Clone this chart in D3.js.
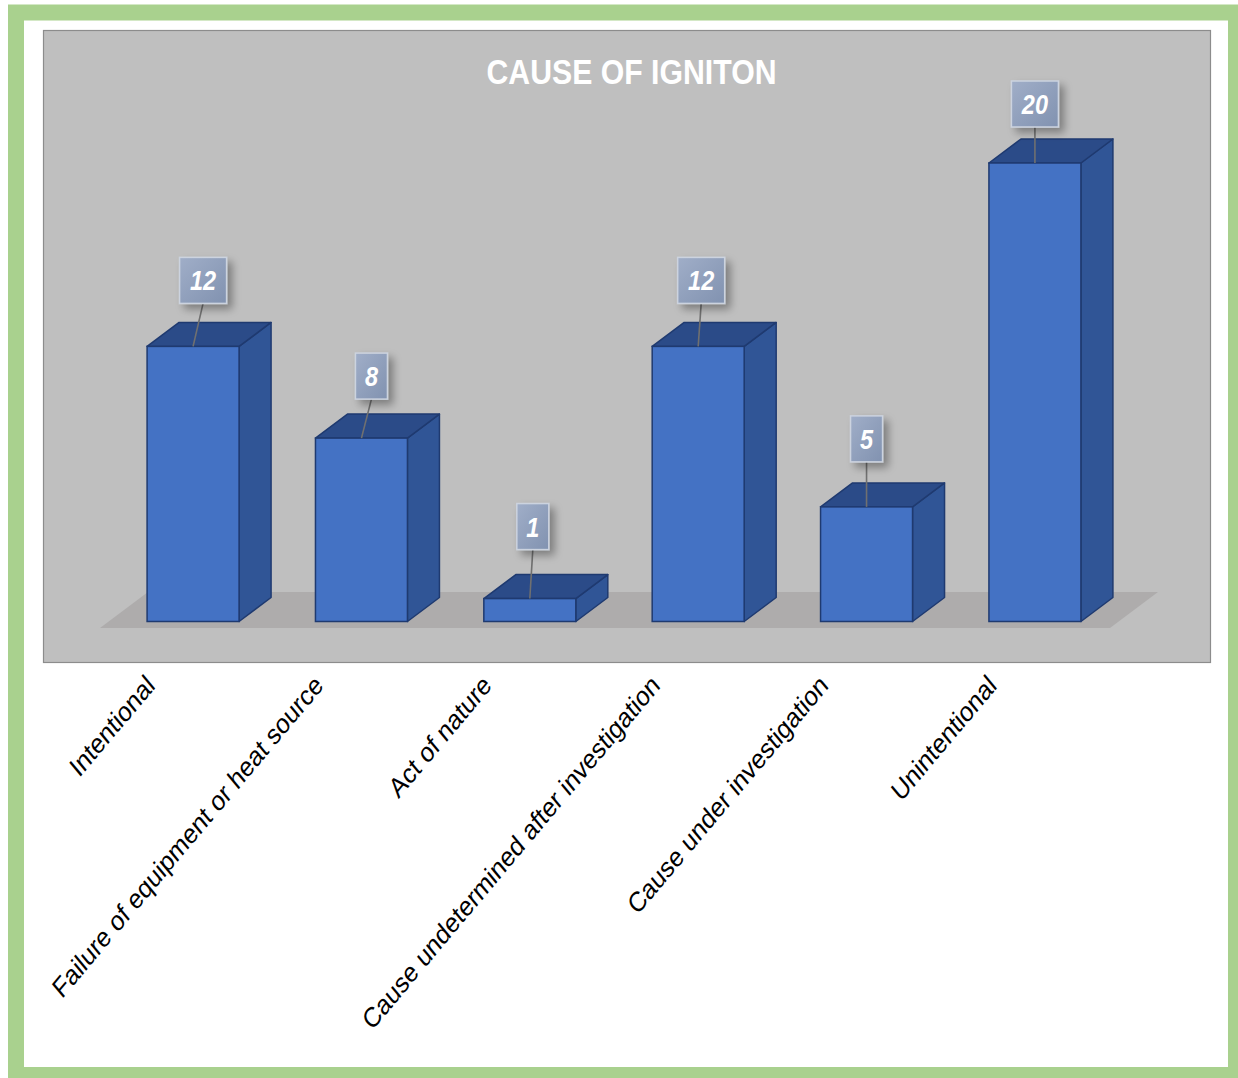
<!DOCTYPE html>
<html>
<head>
<meta charset="utf-8">
<script src="https://cdn.jsdelivr.net/npm/d3@7"></script>
<style>
  html, body { margin: 0; padding: 0; background: #ffffff; }
  svg { display: block; }
</style>
</head>
<body>
<svg id="chart" width="1238" height="1078"></svg>
<script>
// ---- data ----
const categories = [
  "Intentional",
  "Failure of equipment or heat source",
  "Act of nature",
  "Cause undetermined after investigation",
  "Cause under investigation",
  "Unintentional"
];
const values = [12, 8, 1, 12, 5, 20];
const chartTitle = "CAUSE OF IGNITON";

// ---- layout ----
const W = 1238, H = 1078;
const plot = { x0: 43, y0: 30, x1: 1210, y1: 662 };
const depth = { dx: 32, dy: -24 };
// callout placement relative to each column (shift of the box, gap above the column)
const calloutShift = [10, 10, 3, 3, 0, 0];
const calloutGap = [43, 39, 49, 43, 45, 36];

const svg = d3.select("#chart");
const defs = svg.append("defs");

const grad = defs.append("linearGradient").attr("id", "boxFill")
  .attr("x1", "0").attr("y1", "0").attr("x2", "1").attr("y2", "1");
grad.append("stop").attr("offset", "0").attr("stop-color", "#a0aec8");
grad.append("stop").attr("offset", "1").attr("stop-color", "#8192b0");

const shadow = defs.append("filter").attr("id", "boxShadow")
  .attr("x", "-50%").attr("y", "-50%").attr("width", "200%").attr("height", "200%");
shadow.append("feGaussianBlur").attr("in", "SourceAlpha").attr("stdDeviation", 4).attr("result", "b");
shadow.append("feOffset").attr("in", "b").attr("dx", 5).attr("dy", 5).attr("result", "o");
shadow.append("feComponentTransfer").attr("in", "o").attr("result", "s")
  .append("feFuncA").attr("type", "linear").attr("slope", 0.35);
const merge = shadow.append("feMerge");
merge.append("feMergeNode").attr("in", "s");
merge.append("feMergeNode").attr("in", "SourceGraphic");

// frame
svg.append("rect").attr("x", 0).attr("y", 0).attr("width", W).attr("height", H).attr("fill", "#ffffff");
svg.append("rect").attr("x", 16).attr("y", 12.5).attr("width", 1220).attr("height", 1062.5)
  .attr("fill", "none").attr("stroke", "#a9d18e").attr("stroke-width", 16);

// plot area
svg.append("rect")
  .attr("x", plot.x0 + 0.5).attr("y", plot.y0 + 0.5)
  .attr("width", plot.x1 - plot.x0).attr("height", plot.y1 - plot.y0)
  .attr("fill", "#bfbfbf").attr("stroke", "#8c8c8c").attr("stroke-width", 1.2);

// scales
const x = d3.scaleBand().domain(categories).range([105, 1123])
  .paddingInner(0.4537).paddingOuter(0.25);
const y = d3.scaleLinear().domain([0, 20]).range([621.5, 163]);

// floor
const fl = x.range()[0] - 5, fr = x.range()[1] - 13;
const fy = y(0) + 6.5;
svg.append("polygon")
  .attr("points", [
    [fl, fy], [fr, fy], [fr + 48, fy - 36], [fl + 48, fy - 36]
  ].map(p => p.join(",")).join(" "))
  .attr("fill", "#aeacac");

// columns
const cols = svg.append("g").selectAll("g.col")
  .data(categories.map((c, i) => ({ c, v: values[i], i })))
  .join("g").attr("class", "col");

cols.each(function (d) {
  const g = d3.select(this);
  const xl = x(d.c), xr = xl + x.bandwidth();
  const yt = y(d.v), yb = y(0);
  const stroke = "#1f3a70";
  // side face
  g.append("polygon")
    .attr("points", [[xr, yb], [xr + depth.dx, yb + depth.dy], [xr + depth.dx, yt + depth.dy], [xr, yt]]
      .map(p => p.join(",")).join(" "))
    .attr("fill", "#305596").attr("stroke", stroke).attr("stroke-width", 1.5).attr("stroke-linejoin", "round");
  // top face
  g.append("polygon")
    .attr("points", [[xl, yt], [xr, yt], [xr + depth.dx, yt + depth.dy], [xl + depth.dx, yt + depth.dy]]
      .map(p => p.join(",")).join(" "))
    .attr("fill", "#2b4b88").attr("stroke", stroke).attr("stroke-width", 1.5).attr("stroke-linejoin", "round");
  // front face
  g.append("rect")
    .attr("x", xl).attr("y", yt).attr("width", x.bandwidth()).attr("height", yb - yt)
    .attr("fill", "#4472c4").attr("stroke", stroke).attr("stroke-width", 1.5);
});

// value callouts
const callouts = svg.append("g");
categories.forEach((c, i) => {
  const v = values[i];
  const cx = x(c) + x.bandwidth() / 2;
  const yt = y(v);
  const label = String(v);
  const bw = label.length > 1 ? 47 : 32, bh = 46;
  const bx = cx + calloutShift[i] - bw / 2;
  const by = yt - calloutGap[i] - bh;
  callouts.append("line")
    .attr("x1", bx + bw / 2).attr("y1", by + bh)
    .attr("x2", cx).attr("y2", yt)
    .attr("stroke", "#707070").attr("stroke-width", 1.6);
  callouts.append("rect")
    .attr("x", bx).attr("y", by).attr("width", bw).attr("height", bh)
    .attr("fill", "url(#boxFill)").attr("stroke", "#ccd3df").attr("stroke-width", 1.5)
    .attr("filter", "url(#boxShadow)");
  callouts.append("text")
    .attr("transform", `translate(${bx + bw / 2},${by + bh / 2 + 10}) scale(0.84,1)`)
    .attr("text-anchor", "middle")
    .attr("font-family", "Liberation Sans, Arial, sans-serif")
    .attr("font-size", 28).attr("font-weight", "bold").attr("font-style", "italic")
    .attr("fill", "#ffffff")
    .text(label);
});

// title
svg.append("text")
  .attr("transform", `translate(${(plot.x0 + plot.x1) / 2 + 5},84) scale(0.84,1)`)
  .attr("text-anchor", "middle")
  .attr("font-family", "Liberation Sans, Arial, sans-serif")
  .attr("font-size", 36).attr("font-weight", "bold")
  .attr("fill", "#ffffff")
  .text(chartTitle);

// category axis labels
const axisG = svg.append("g");
categories.forEach(c => {
  const cx = x(c) + x.bandwidth() / 2;
  axisG.append("text")
    .attr("transform", `translate(${cx - 37},687) scale(0.84,1) rotate(-45)`)
    .attr("text-anchor", "end")
    .attr("font-family", "Liberation Sans, Arial, sans-serif")
    .attr("font-size", 28)
    .attr("fill", "#000000")
    .text(c);
});
</script>
</body>
</html>
